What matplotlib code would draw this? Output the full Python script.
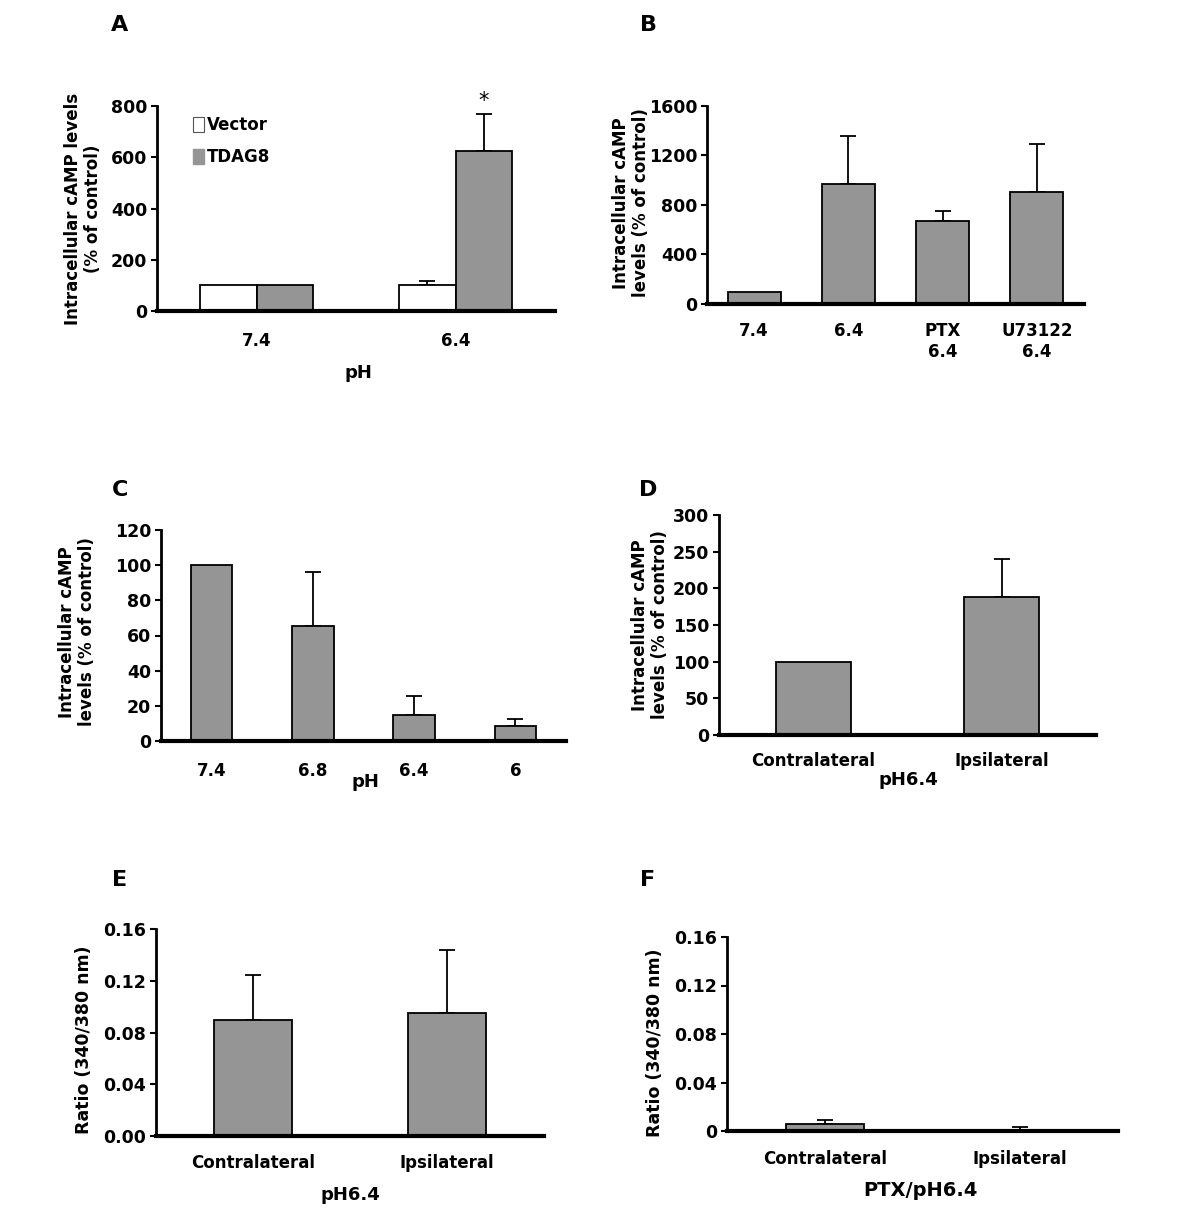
import matplotlib
matplotlib.use('Agg')
import matplotlib.pyplot as plt
from matplotlib.patches import Patch
import numpy as np

plt.rcParams['font.family'] = ['DejaVu Sans']
plt.rcParams['font.weight'] = 'bold'

# panel A: cAMP by pH, vector vs TDAG8
a_groups = ["7.4", "6.4"]
a_vector = [100, 101]
a_vector_err = [0, 16]
a_tdag8 = [100, 624]
a_tdag8_err = [0, 146]
a_yticks = [0, 200, 400, 600, 800]

# panel B: inhibitors
b_labels = ["7.4", "6.4", "PTX\n6.4", "U73122\n6.4"]
b_values = [100, 967, 671, 908]
b_err = [0, 390, 83, 382]
b_yticks = [0, 400, 800, 1200, 1600]

# panel C: pH series
c_labels = ["7.4", "6.8", "6.4", "6"]
c_values = [100, 65.4, 14.6, 8.3]
c_err = [0, 30.7, 10.8, 4.2]
c_yticks = [0, 20, 40, 60, 80, 100, 120]

# panel D: DRG contra / ipsi cAMP
d_labels = ["Contralateral", "Ipsilateral"]
d_values = [100, 188.6]
d_err = [0, 52]
d_yticks = [0, 50, 100, 150, 200, 250, 300]

# panel E: calcium ratio at pH 6.4
e_labels = ["Contralateral", "Ipsilateral"]
e_values = [0.090, 0.0947]
e_err = [0.0345, 0.049]
e_yticks = [0, 0.04, 0.08, 0.12, 0.16]
e_yticklabels = ["0.00", "0.04", "0.08", "0.12", "0.16"]

# panel F: calcium ratio with PTX
f_labels = ["Contralateral", "Ipsilateral"]
f_values = [0.0055, 0.0004]
f_err = [0.0033, 0.0029]
f_yticks = [0, 0.04, 0.08, 0.12, 0.16]
f_yticklabels = ["0", "0.04", "0.08", "0.12", "0.16"]

GRAY = "#959595"
W, H = 1200, 1231
fig = plt.figure(figsize=(W / 100, H / 100), dpi=100)


def px_axes(left, top, right, bottom):
  return fig.add_axes([left / W, 1 - bottom / H, (right - left) / W, (bottom - top) / H])


def ftext(x, y, s, **kw):
  fig.text(x / W, 1 - y / H, s, ha='center', va='center', **kw)


def style(ax, yticks, ylim, xpad, yticklabels=None):
  for side in ['top', 'right']:
    ax.spines[side].set_visible(False)
  ax.spines['left'].set_linewidth(2)
  ax.spines['bottom'].set_linewidth(3)
  ax.set_ylim(*ylim)
  ax.set_yticks(yticks)
  if yticklabels is not None:
    ax.set_yticklabels(yticklabels)
  ax.tick_params(axis='y', direction='out', length=4, width=1.5, labelsize=12.5, pad=3)
  ax.tick_params(axis='x', length=0, labelsize=12, pad=xpad)


def bars(ax, labels, values, err, width):
  x = np.arange(len(values))
  ax.bar(x, values, width, color=GRAY, edgecolor='black', linewidth=1.3, zorder=2)
  err = np.array(err)
  keep = err > 0
  ax.errorbar(x[keep], np.array(values)[keep], yerr=[np.zeros(keep.sum()), err[keep]],
              fmt='none', ecolor='black', elinewidth=1.3, capsize=6, capthick=1.3, zorder=1)
  ax.set_xticks(x)
  ax.set_xticklabels(labels)
  ax.set_xlim(-0.5, len(values) - 0.5)


if True:  # A
  ax = px_axes(157, 106, 555, 311)
  x = np.arange(len(a_groups))
  w = 0.285
  ax.bar(x - w / 2, a_vector, w, color='white', edgecolor='black', linewidth=1.3, zorder=2)
  ax.bar(x + w / 2, a_tdag8, w, color=GRAY, edgecolor='black', linewidth=1.3, zorder=2)
  ax.errorbar(x[1:] - w / 2, a_vector[1:], yerr=[[0], a_vector_err[1:]], fmt='none',
              ecolor='black', elinewidth=1.3, capsize=6, capthick=1.3, zorder=1)
  ax.errorbar(x[1:] + w / 2, a_tdag8[1:], yerr=[[0], a_tdag8_err[1:]], fmt='none',
              ecolor='black', elinewidth=1.3, capsize=6, capthick=1.3, zorder=1)
  ax.text(x[1] + w / 2, a_tdag8[1] + a_tdag8_err[1] + 12, "*", ha='center', va='bottom',
          fontsize=15, fontweight='normal', clip_on=False)
  ax.set_xticks(x)
  ax.set_xticklabels(a_groups)
  ax.set_xlim(-0.5, 1.5)
  style(ax, a_yticks, (0, 800), 15)
  ax.legend(handles=[Patch(facecolor='white', edgecolor='#555555', linewidth=0.8),
                     Patch(facecolor=GRAY, edgecolor=GRAY)],
            labels=["Vector", "TDAG8"], loc='upper left', bbox_to_anchor=(0.09, 0.95),
            frameon=False, borderpad=0, borderaxespad=0, handlelength=0.7,
            handleheight=1.0, handletextpad=0.15, labelspacing=0.85,
            prop={'size': 12, 'weight': 'bold'})
  ftext(358, 373, "pH", fontsize=13, fontweight='bold')
  ftext(83, 209, "Intracellular cAMP levels\n(% of control)", fontsize=12,
        fontweight='bold', rotation=90, linespacing=1.1)
  ftext(120, 25, "A", fontsize=16, fontweight='bold')

if True:  # B
  ax = px_axes(707, 106, 1084, 304)
  bars(ax, b_labels, b_values, b_err, 0.56)
  style(ax, b_yticks, (0, 1600), 13)
  ftext(631, 203, "Intracellular cAMP\nlevels (% of control)", fontsize=12,
        fontweight='bold', rotation=90, linespacing=1.1)
  ftext(648, 25, "B", fontsize=16, fontweight='bold')

if True:  # C
  ax = px_axes(161, 530, 566, 741)
  bars(ax, c_labels, c_values, c_err, 0.41)
  style(ax, c_yticks, (0, 120), 15)
  ftext(365, 782, "pH", fontsize=13, fontweight='bold')
  ftext(77, 632, "Intracellular cAMP\nlevels (% of control)", fontsize=12,
        fontweight='bold', rotation=90, linespacing=1.1)
  ftext(120, 490, "C", fontsize=16, fontweight='bold')

if True:  # D
  ax = px_axes(719, 515, 1096, 735)
  bars(ax, d_labels, d_values, d_err, 0.4)
  style(ax, d_yticks, (0, 300), 12)
  ftext(908, 780, "pH6.4", fontsize=13, fontweight='bold')
  ftext(650, 625, "Intracellular cAMP\nlevels (% of control)", fontsize=12,
        fontweight='bold', rotation=90, linespacing=1.1)
  ftext(648, 490, "D", fontsize=16, fontweight='bold')

if True:  # E
  ax = px_axes(156, 929, 544, 1136)
  bars(ax, e_labels, e_values, e_err, 0.4)
  style(ax, e_yticks, (0, 0.16), 13, e_yticklabels)
  ftext(350, 1195, "pH6.4", fontsize=13, fontweight='bold')
  ftext(84, 1040, "Ratio (340/380 nm)", fontsize=12.5, fontweight='bold', rotation=90)
  ftext(120, 880, "E", fontsize=16, fontweight='bold')

if True:  # F
  ax = px_axes(727, 937, 1118, 1131)
  bars(ax, f_labels, f_values, f_err, 0.4)
  style(ax, f_yticks, (0, 0.16), 14, f_yticklabels)
  ftext(920, 1190, "PTX/pH6.4", fontsize=14, fontweight='bold')
  ftext(655, 1043, "Ratio (340/380 nm)", fontsize=12.5, fontweight='bold', rotation=90)
  ftext(648, 880, "F", fontsize=16, fontweight='bold')

fig.savefig("out.png", dpi=100)
